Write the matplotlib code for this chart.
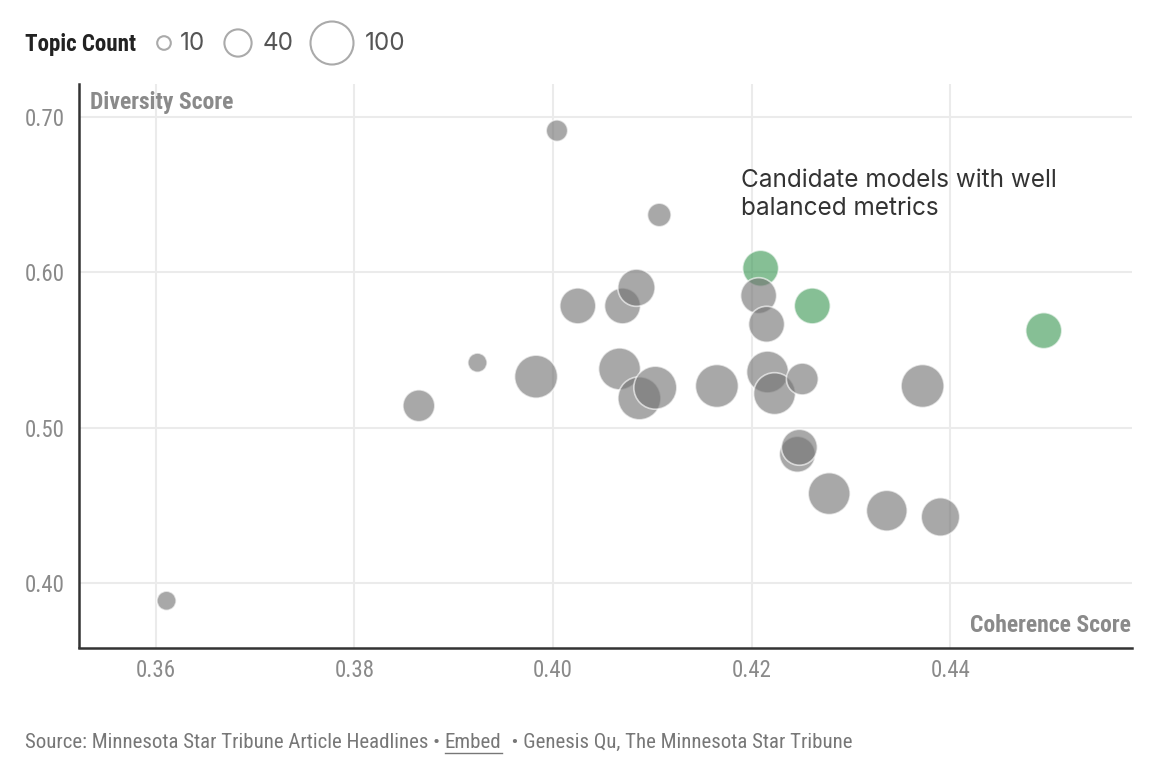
import matplotlib
matplotlib.use('Agg')
import matplotlib.pyplot as plt
from matplotlib import font_manager
import numpy as np

# coherence / diversity / topic count per model
coherence = [0.3611, 0.3865, 0.3924, 0.3983, 0.4025, 0.4070, 0.4084,
             0.4067, 0.4087, 0.4103, 0.4165, 0.4004, 0.4107, 0.4209,
             0.4207, 0.4215, 0.4261, 0.4216, 0.4223, 0.4251, 0.4246,
             0.4248, 0.4278, 0.4336, 0.4390, 0.4372, 0.4494]
diversity = [0.3887, 0.5141, 0.5418, 0.5328, 0.5783, 0.5783, 0.5900,
             0.5378, 0.5189, 0.5257, 0.5268, 0.6910, 0.6368, 0.6025,
             0.5849, 0.5665, 0.5783, 0.5358, 0.5219, 0.5313, 0.4829,
             0.4874, 0.4576, 0.4466, 0.4426, 0.5268, 0.5624]
topics = [20, 55, 20, 100, 70, 70, 75, 95, 100, 100, 100, 25, 30, 70,
          70, 70, 70, 95, 95, 55, 70, 70, 95, 90, 80, 100, 70]
candidate = [False, False, False, False, False, False, False, False,
             False, False, False, False, False, True, False, False, True,
             False, False, False, False, False, False, False, False,
             False, True]

legend_counts = [10, 40, 100]
x_ticks = [0.36, 0.38, 0.40, 0.42, 0.44]
y_ticks = [0.40, 0.50, 0.60, 0.70]

GRAY = '#757575'
GREEN = '#3f9a58'
W, H = 1162, 762


def pick_font(names):
    have = {f.name for f in font_manager.fontManager.ttflist}
    for n in names:
        if n in have:
            return n
    return 'DejaVu Sans'


def bubble_size(count):
    # radius in px grows with sqrt(count); scatter wants points^2
    r_px = 2.15 * np.sqrt(np.asarray(count, dtype=float))
    return (2 * r_px * 72 / 100) ** 2


def main():
    narrow = pick_font(['Roboto Condensed', 'Liberation Sans Narrow', 'Roboto'])
    body = pick_font(['Inter', 'Open Sans', 'Lato'])

    fig = plt.figure(figsize=(W / 100, H / 100), dpi=100)
    ax = fig.add_axes([79 / W, 1 - 647.5 / H, (1132 - 79) / W, (647.5 - 84) / H])
    ax.set_xlim(0.35229, 0.45828)
    ax.set_ylim(0.35865, 0.721)

    colors = [GREEN if c else GRAY for c in candidate]
    ax.scatter(coherence, diversity, s=bubble_size(topics), c=colors,
               alpha=0.63, edgecolors='white', linewidths=1.2, zorder=3)

    ax.set_xticks(x_ticks)
    ax.set_yticks(y_ticks)
    ax.set_xticklabels(['%.2f' % v for v in x_ticks])
    ax.set_yticklabels(['%.2f' % v for v in y_ticks])
    ax.tick_params(length=0, labelsize=16.5, labelcolor='#8a8a8a')
    ax.tick_params(axis='x', pad=8)
    ax.tick_params(axis='y', pad=10.5)
    for lab in ax.get_xticklabels() + ax.get_yticklabels():
        lab.set_fontfamily(narrow)
    ax.grid(True, color='#ebebeb', linewidth=1.5, zorder=0)
    ax.set_axisbelow(True)
    for side in ['top', 'right']:
        ax.spines[side].set_visible(False)
    for side in ['left', 'bottom']:
        ax.spines[side].set_color('#333333')
        ax.spines[side].set_linewidth(1.8)

    ax.text(0.0105, 0.988, 'Diversity Score', transform=ax.transAxes,
            ha='left', va='top', fontsize=17, fontweight='bold',
            color='#8a8a8a', family=narrow)
    ax.text(0.999, 0.027, 'Coherence Score', transform=ax.transAxes,
            ha='right', va='baseline', fontsize=17, fontweight='bold',
            color='#8a8a8a', family=narrow)
    ax.text(0.4189, 0.6662, 'Candidate models with well\nbalanced metrics',
            ha='left', va='top', fontsize=17.5, color='#333333',
            family=body, linespacing=1.25)

    # overlay in pixel coordinates for legend and footer
    ov = fig.add_axes([0, 0, 1, 1], facecolor='none')
    ov.set_xlim(0, W)
    ov.set_ylim(H, 0)
    ov.axis('off')

    ov.text(25, 44, 'Topic Count', ha='left', va='center', fontsize=16.6,
            fontweight='bold', color='#222222', family=narrow)
    leg_x = [164, 238, 332]
    lab_x = [180, 263, 365]
    ov.scatter(leg_x, [43] * 3, s=bubble_size(legend_counts),
               facecolors='white', edgecolors='#aaaaaa', linewidths=1.5)
    for lx, n in zip(lab_x, legend_counts):
        ov.text(lx, 44, str(n), ha='left', va='center', fontsize=17.5,
                color='#555555', family=body)

    fig.canvas.draw()
    r = fig.canvas.get_renderer()
    parts = ['Source: Minnesota Star Tribune Article Headlines \u2022 ',
             'Embed', '  \u2022 Genesis Qu, The Minnesota Star Tribune']
    x = 25
    for i, p in enumerate(parts):
        t = ov.text(x, 742, p, ha='left', va='center', fontsize=15,
                    color='#777777', family=narrow)
        bb = t.get_window_extent(renderer=r)
        w = bb.width
        if i == 1:
            ov.plot([x, x + w], [753, 753], color='#777777', lw=1)
        x += w

    fig.savefig('out.png', dpi=100)


if __name__ == '__main__':
    main()
